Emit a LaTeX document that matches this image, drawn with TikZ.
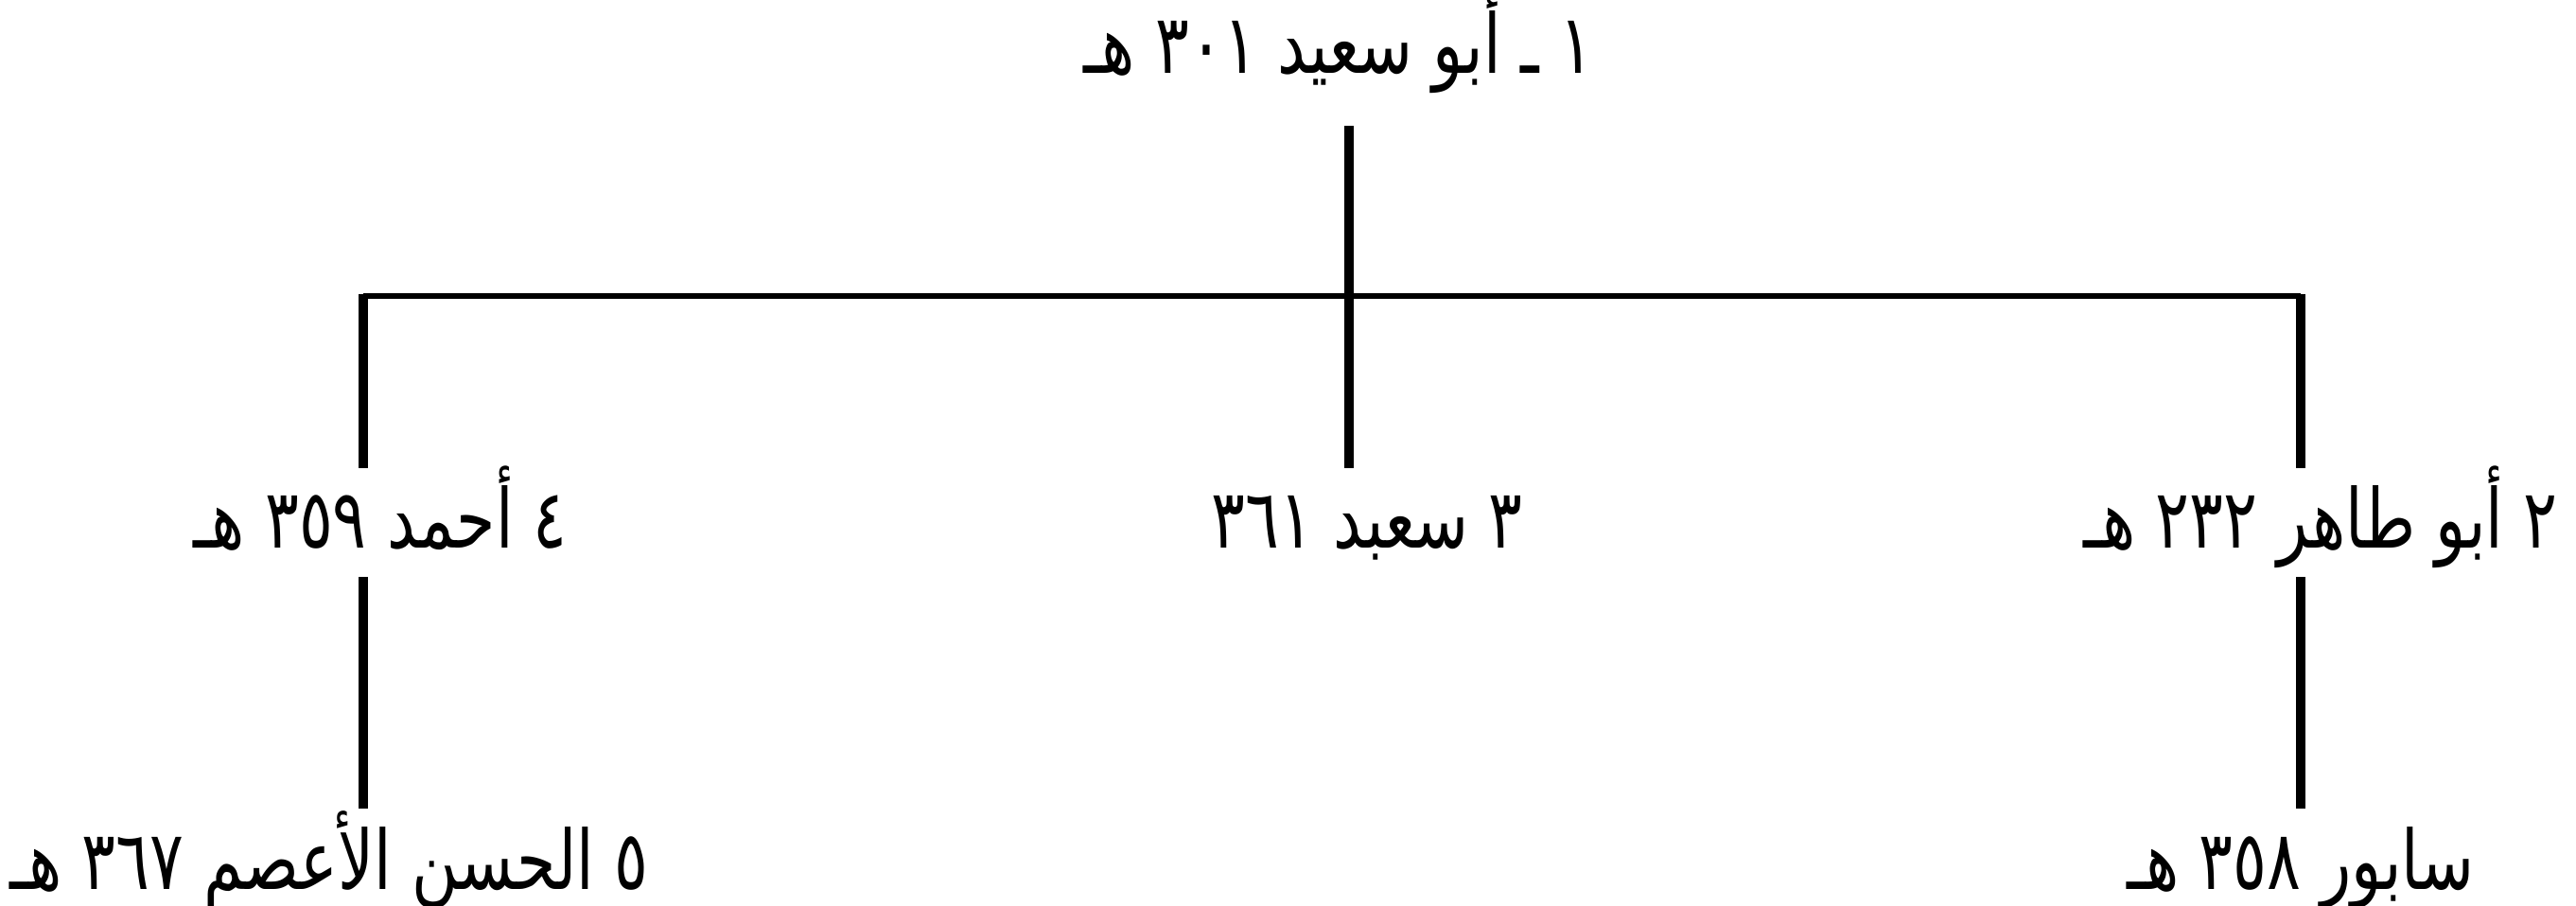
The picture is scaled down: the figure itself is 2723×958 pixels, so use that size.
\documentclass[tikz,border=0pt]{standalone}
\usepackage{fontspec}
\usepackage{graphicx}
\usepackage{tikz}
\TeXXeTstate=1
\newfontfamily\arabicfont[Script=Arabic]{DejaVu Sans}
\newcommand{\artxt}[1]{\scalebox{1}[1.3]{\arabicfont\beginR #1\endR}}

\begin{document}
\begin{tikzpicture}[x=0.01cm,y=-0.01cm,
    person/.style={anchor=base,inner sep=0pt,outer sep=0pt,
      text height=0.85cm,text depth=0.3cm,font=\fontsize{19}{23}\selectfont},
    stem/.style={line width=2.7pt},
    bar/.style={line width=1.8pt}]
  \useasboundingbox (0,0) rectangle (2723,958);
  % generations
  \node[person] (abusaid) at (1415,78) {\artxt{١ ـ أبو سعيد ٣٠١ هـ}};
  \node[person] (ahmad) at (402,580) {\artxt{٤ أحمد ٣٥٩ هـ}};
  \node[person] (saeed) at (1445,580) {\artxt{٣ سعبد ٣٦١}};
  \node[person] (abutahir) at (2453,580) {\artxt{٢ أبو طاهر ٢٣٢ هـ}};
  \node[person] (hasan) at (348,940) {\artxt{٥ الحسن الأعصم ٣٦٧ هـ}};
  \node[person] (sabur) at (2432,940) {\artxt{سابور ٣٥٨ هـ}};
  \coordinate (jl) at (384,313);
  \coordinate (jc) at (1426,313);
  \coordinate (jr) at (2432,313);
  % lines
  \draw[stem] ([yshift=-0.25cm]abusaid.south -| jc) -- (saeed.north -| jc);
  \draw[bar] (jl) -- (jr);
  \draw[stem] ([yshift=0.7pt]jl) -- (ahmad.north -| jl);
  \draw[stem] ([yshift=0.7pt]jr) -- (abutahir.north -| jr);
  \draw[stem] (ahmad.south -| jl) -- (hasan.north -| jl);
  \draw[stem] (abutahir.south -| jr) -- (sabur.north -| jr);
\end{tikzpicture}
\end{document}
